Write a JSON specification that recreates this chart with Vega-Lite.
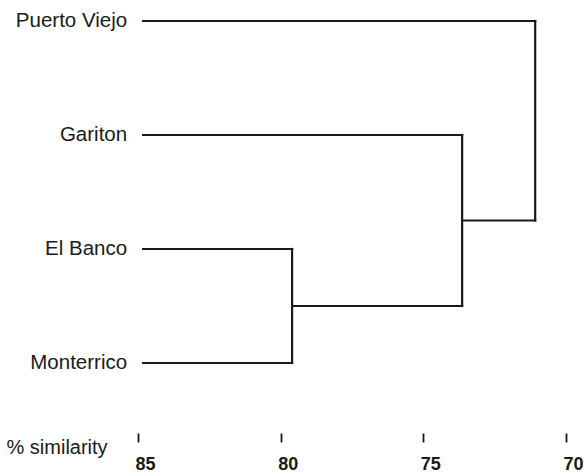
{
  "$schema": "https://vega.github.io/schema/vega-lite/v6.json",
  "autosize": {"type": "none"},
  "width": 428,
  "height": 342,
  "padding": {"left": 138, "right": 18, "top": 21, "bottom": 113},
  "background": "white",
  "config": {"view": {"stroke": null}, "font": "Liberation Sans"},
  "datasets": {
    "segments": [
      {"x1": 84.82, "x2": 71.08, "y1": 0, "y2": 0},
      {"x1": 84.82, "x2": 73.64, "y1": 1, "y2": 1},
      {"x1": 84.82, "x2": 79.6, "y1": 2, "y2": 2},
      {"x1": 84.82, "x2": 79.6, "y1": 3, "y2": 3},
      {"x1": 79.6, "x2": 73.64, "y1": 2.5, "y2": 2.5},
      {"x1": 73.64, "x2": 71.08, "y1": 1.75, "y2": 1.75},
      {"x1": 79.6, "x2": 79.6, "y1": 2, "y2": 3},
      {"x1": 73.64, "x2": 73.64, "y1": 1, "y2": 2.5},
      {"x1": 71.08, "x2": 71.08, "y1": 0, "y2": 1.75}
    ],
    "leaves": [
      {"site": "Puerto Viejo", "start": 84.82, "pos": 0},
      {"site": "Gariton", "start": 84.82, "pos": 1},
      {"site": "El Banco", "start": 84.82, "pos": 2},
      {"site": "Monterrico", "start": 84.82, "pos": 3}
    ]
  },
  "layer": [
    {
      "data": {"name": "segments"},
      "mark": {"type": "rule", "color": "#1a1a1a", "strokeWidth": 2.2, "strokeCap": "square"},
      "encoding": {
        "x": {
          "field": "x1", "type": "quantitative",
          "scale": {"domain": [70, 85], "reverse": true, "nice": false, "zero": false},
          "axis": {
            "values": [85, 80, 75, 70],
            "orient": "bottom",
            "offset": 70,
            "domain": false,
            "grid": false,
            "tickSize": 9,
            "tickWidth": 1.8,
            "tickColor": "#1a1a1a",
            "labelPadding": 13,
            "labelOffset": 7,
            "labelFontSize": 18,
            "labelFontWeight": "bold",
            "labelColor": "#1a1a1a",
            "labelFlush": false,
            "title": "% similarity",
            "titleX": -132,
            "titleY": 14,
            "titleAlign": "left",
            "titleAnchor": null,
            "titleBaseline": "middle",
            "titleFontSize": 20,
            "titleFontWeight": "normal",
            "titleColor": "#1a1a1a"
          }
        },
        "x2": {"field": "x2"},
        "y": {
          "field": "y1", "type": "quantitative",
          "scale": {"domain": [0, 3], "reverse": true, "nice": false, "zero": false},
          "axis": null
        },
        "y2": {"field": "y2"}
      }
    },
    {
      "data": {"name": "leaves"},
      "mark": {"type": "text", "align": "right", "baseline": "middle", "dx": -16, "dy": 0, "fontSize": 20.5, "color": "#1a1a1a"},
      "encoding": {
        "x": {"field": "start", "type": "quantitative"},
        "y": {"field": "pos", "type": "quantitative"},
        "text": {"field": "site"}
      }
    }
  ]
}
